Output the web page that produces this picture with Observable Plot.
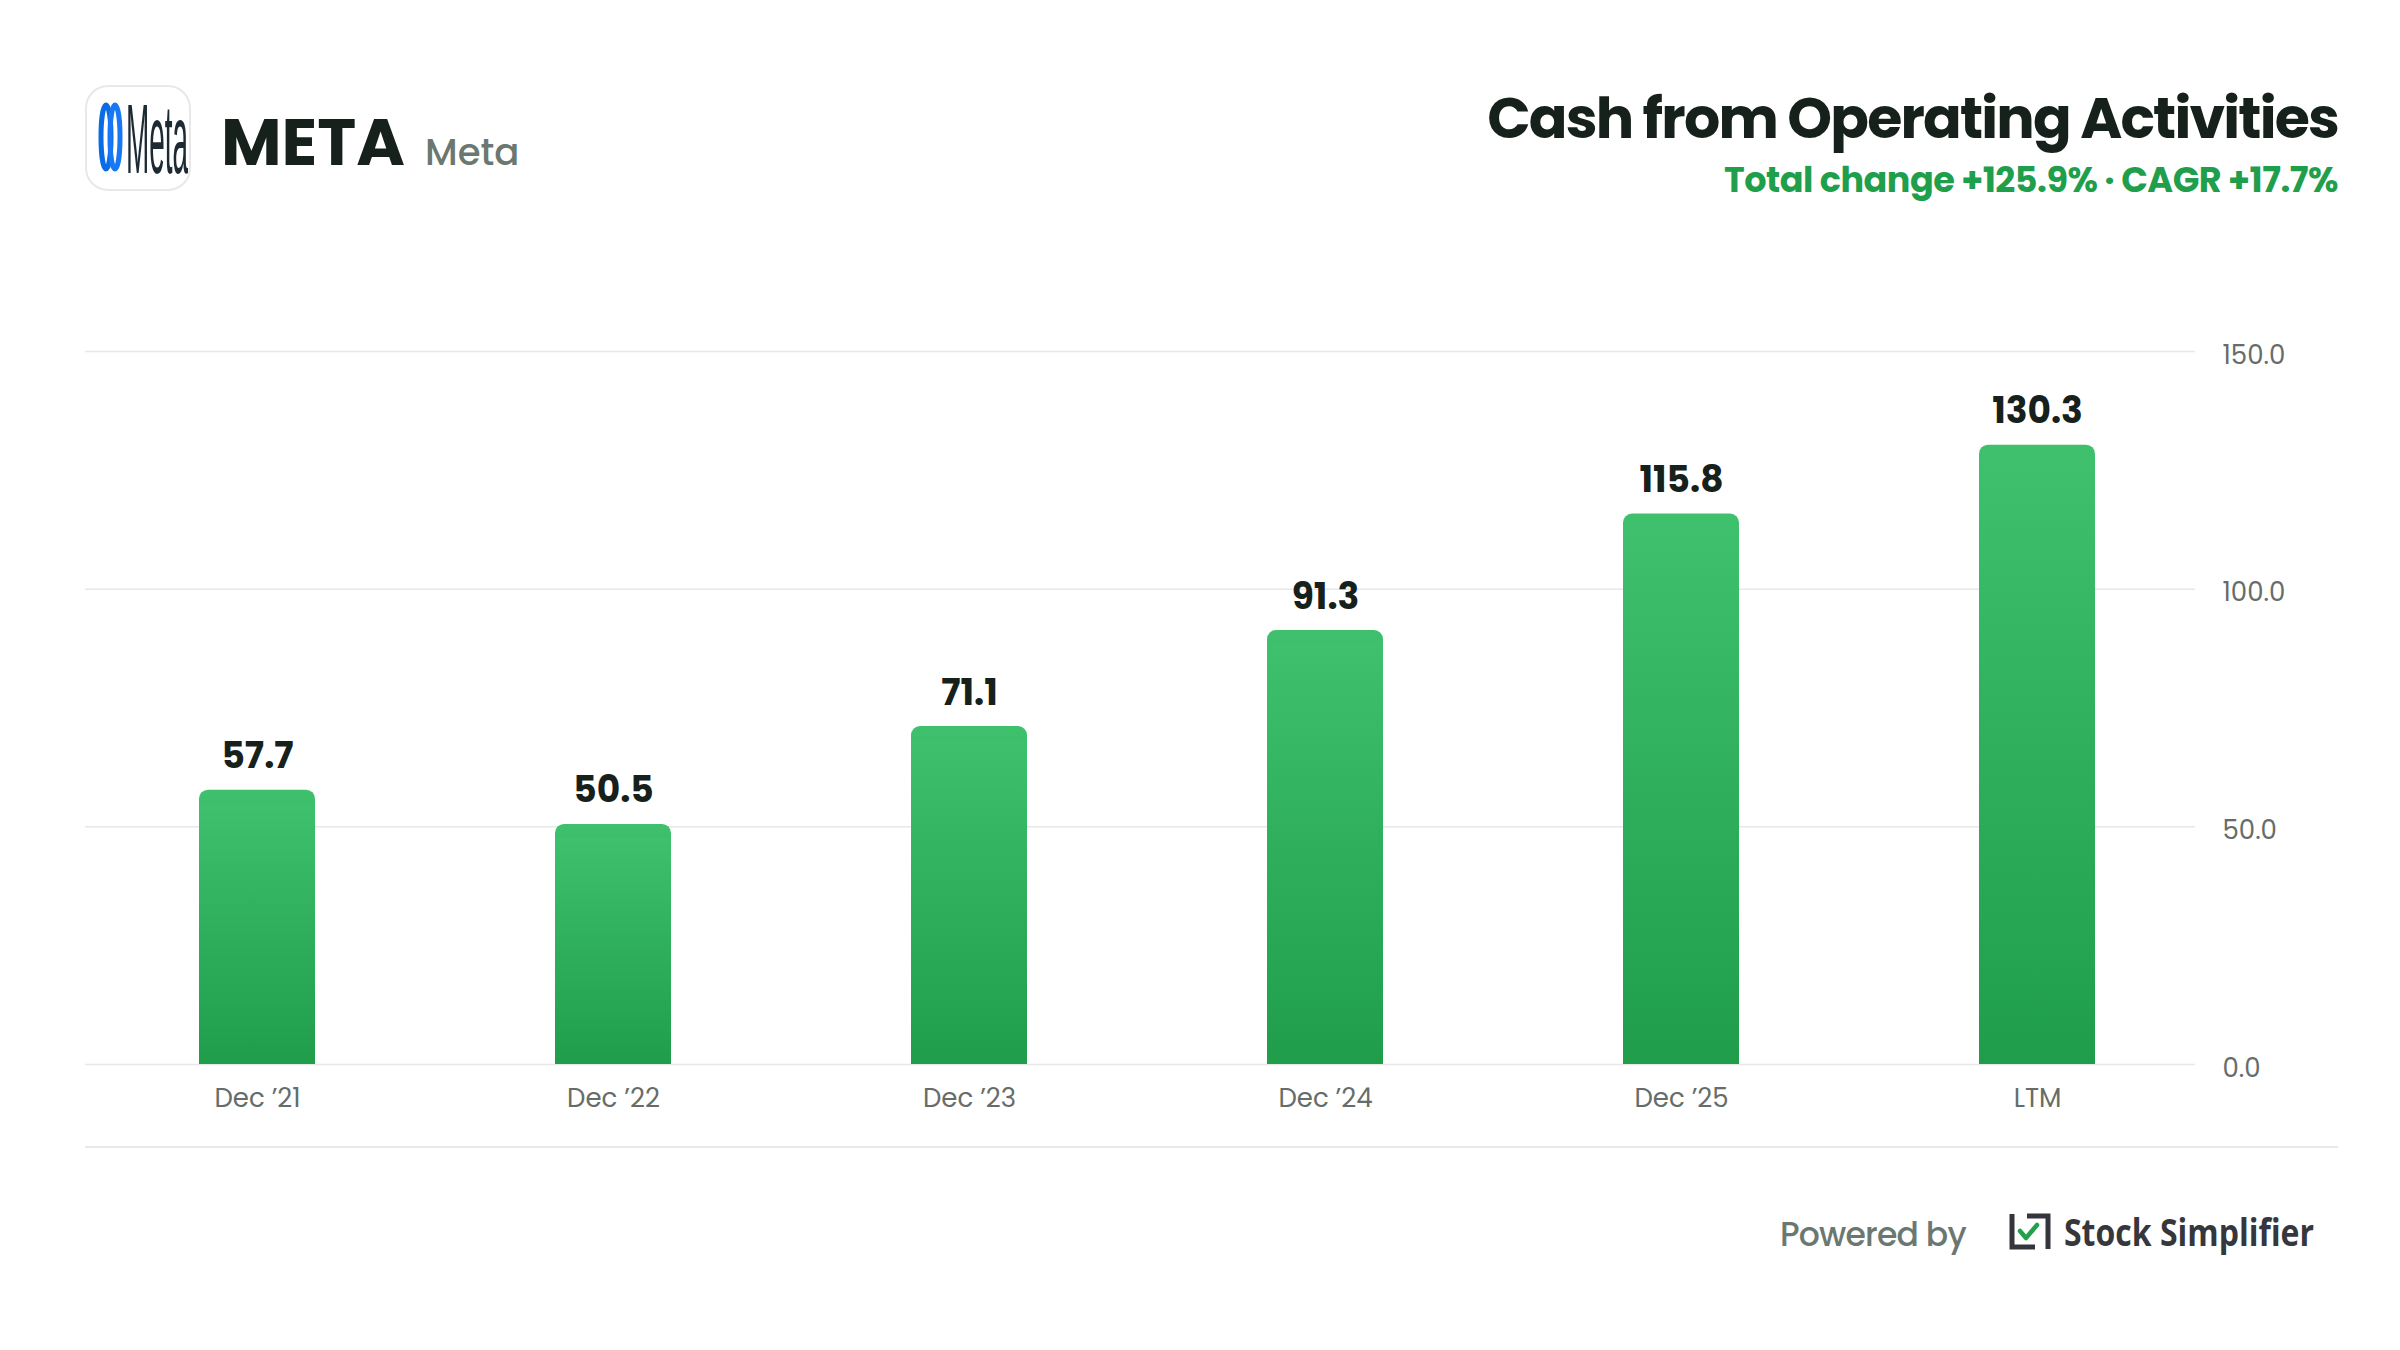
<!DOCTYPE html>
<html>
<head>
<meta charset="utf-8">
<script src="https://cdn.jsdelivr.net/npm/d3@7"></script>
<script src="https://cdn.jsdelivr.net/npm/@observablehq/plot@0.6"></script>
<style>
  html, body { margin: 0; padding: 0; background: #ffffff; }
  #page { position: relative; width: 2400px; height: 1350px; background: #ffffff; overflow: hidden; font-family: "Poppins", "Inter", "Noto Sans", sans-serif; }
  #overlay { position: absolute; left: 0; top: 0; }
  #chart { position: absolute; left: 0; top: 300px; }
</style>
</head>
<body>
<div id="page">
  <svg id="overlay" width="2400" height="1350" xmlns="http://www.w3.org/2000/svg" font-family="Poppins, Inter, 'Noto Sans', sans-serif">
    <!-- company logo tile -->
    <rect x="86" y="86" width="104" height="104" rx="22" fill="#ffffff" stroke="#e8e8e8" stroke-width="2"/>
    <ellipse cx="106" cy="137" rx="5" ry="32" fill="none" stroke="#0a6be6" stroke-width="5"/>
    <ellipse cx="115" cy="137" rx="5" ry="32" fill="none" stroke="#1877f2" stroke-width="5"/>
    <text transform="translate(126,173) scale(0.285,1)" x="0" y="0" font-family="'Liberation Sans Narrow', 'Liberation Sans', sans-serif" font-size="98" fill="#1c2b33">Meta</text>
    <!-- ticker and name -->
    <text id="ticker" x="221" y="165" font-size="66" font-weight="700" fill="#17211c">META</text>
    <text id="cname" x="425" y="165" font-size="37" font-weight="500" fill="#6b7872">Meta</text>
    <!-- title -->
    <text id="title" x="2338" y="138" text-anchor="end" font-size="57" font-weight="700" fill="#17211c" letter-spacing="-1.8">Cash from Operating Activities</text>
    <text id="subtitle" x="2338" y="192" text-anchor="end" font-size="35" font-weight="700" fill="#1f9e4c" letter-spacing="-0.5">Total change +125.9% · CAGR +17.7%</text>
    <!-- footer -->
    <line x1="85" x2="2338" y1="1147" y2="1147" stroke="#e9e9e9" stroke-width="2"/>
    <text x="1780" y="1246" font-size="33" font-weight="500" fill="#6b7872" letter-spacing="-0.8">Powered by</text>
    <path d="M2012 1214 V1247 H2035" fill="none" stroke="#34363c" stroke-width="5"/>
    <path d="M2027 1216 H2048 V1249" fill="none" stroke="#34363c" stroke-width="5"/>
    <path d="M2020 1231 L2026 1238 L2037 1225" fill="none" stroke="#22a04c" stroke-width="4.5" stroke-linecap="round" stroke-linejoin="round"/>
    <text x="2064" y="1246" font-family="'Open Sans', 'Noto Sans', sans-serif" font-size="37" font-weight="700" fill="#36373d" textLength="250" lengthAdjust="spacingAndGlyphs">Stock Simplifier</text>
  </svg>
  <div id="chart"></div>
</div>
<script>
const periods = ["Dec ’21", "Dec ’22", "Dec ’23", "Dec ’24", "Dec ’25", "LTM"];
const values = [57.7, 50.5, 71.1, 91.3, 115.8, 130.3];
const yTicks = [0, 50, 100, 150];

const data = periods.map((p, i) => ({period: p, value: values[i]}));

const chart = Plot.plot({
  width: 2400,
  height: 850,
  marginLeft: 85,
  marginRight: 205,
  marginTop: 51,
  marginBottom: 86,
  style: {fontFamily: "Poppins, Inter, 'Noto Sans', sans-serif", color: "#666d69", background: "transparent"},
  x: {type: "band", domain: periods, paddingInner: 0.674, paddingOuter: 0.3, align: 0.533, axis: null},
  y: {domain: [0, 150], axis: null},
  marks: [
    Plot.ruleY(yTicks, {stroke: "#e8e8e8", strokeWidth: 1.5}),
    Plot.axisX({tickSize: 0, tickPadding: 24, fontSize: 26, label: null}),
    Plot.axisY({anchor: "right", ticks: yTicks, tickFormat: d => d.toFixed(1), tickSize: 0, tickPadding: 27, fontSize: 26, dy: 4, label: null}),
    Plot.barY(data, {x: "period", y: "value", fill: "url(#barGrad)", rx: 9}),
    Plot.barY(data, {x: "period", y: "value", fill: "url(#barGrad)", insetTop: 14}),
    Plot.text(data, {x: "period", y: "value", text: d => d.value.toFixed(1), dy: -22, lineAnchor: "bottom", fontSize: 36, fontWeight: 700, fill: "#17211c"})
  ]
});

d3.select(chart).insert("defs", ":first-child").html(
  '<linearGradient id="barGrad" x1="0" y1="0" x2="0" y2="1">' +
  '<stop offset="0%" stop-color="#3ec06c"/>' +
  '<stop offset="100%" stop-color="#1f9d4b"/>' +
  '</linearGradient>'
);

document.getElementById("chart").appendChild(chart);
</script>
</body>
</html>
